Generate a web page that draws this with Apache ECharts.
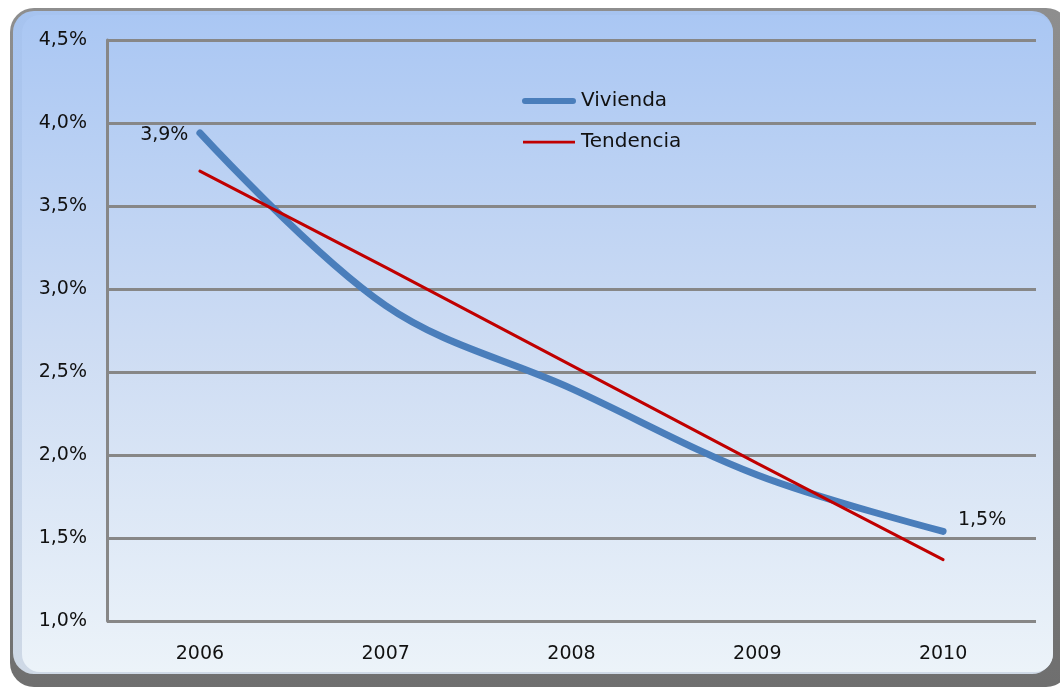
<!DOCTYPE html>
<html>
<head>
<meta charset="utf-8">
<script src="https://cdn.jsdelivr.net/npm/echarts@6/dist/echarts.min.js"></script>
<style>
html,body{margin:0;padding:0;background:#fff;}
#chart{width:1060px;height:687px;}
</style>
</head>
<body>
<div id="chart"></div>
<script>
var categories = ['2006', '2007', '2008', '2009', '2010'];
var vivienda = [3.94, 2.90, 2.40, 1.88, 1.54];
var tendencia = [3.71, 3.13, 2.54, 1.95, 1.37];
var yTicks = [1.0, 1.5, 2.0, 2.5, 3.0, 3.5, 4.0, 4.5];

function fmtPct(v, d) { return v.toFixed(d).replace('.', ',') + '%'; }

var FONT = 'DejaVu Sans';
var chart = echarts.init(document.getElementById('chart'), null, {renderer: 'canvas'});
chart.setOption({
  animation: false,
  backgroundColor: '#ffffff',
  graphic: [
    {type: 'rect', z: -10, silent: true,
     shape: {x: 10, y: 8, width: 1060, height: 679, r: 24},
     style: {fill: new echarts.graphic.LinearGradient(0, 0, 0, 1, [
       {offset: 0, color: '#8e8e8e'}, {offset: 1, color: '#6f6f6f'}])}},
    {type: 'rect', z: -9, silent: true,
     shape: {x: 13, y: 11, width: 1040, height: 663, r: 21},
     style: {fill: new echarts.graphic.LinearGradient(0, 0, 0, 1, [
       {offset: 0, color: '#a6c3ef'}, {offset: 1, color: '#cfd9e6'}])}},
    {type: 'rect', z: -8, silent: true,
     shape: {x: 22, y: 15, width: 1031, height: 657, r: 18},
     style: {fill: new echarts.graphic.LinearGradient(0, 0, 0, 1, [
       {offset: 0, color: '#aac7f3'}, {offset: 0.5, color: '#cddcf3'}, {offset: 1, color: '#ecf3f9'}])}}
  ],
  grid: {left: 107, right: 24, top: 40, bottom: 66, containLabel: false},
  legend: {
    orient: 'vertical',
    left: 517, top: 86,
    itemGap: 21,
    itemWidth: 54, itemHeight: 14,
    textStyle: {fontFamily: FONT, fontSize: 20, color: '#111'},
    data: [
      {name: 'Vivienda',
       icon: 'path://M0,0 L0.01,0 L0.01,0.01 Z M54,14 L53.99,14 L53.99,13.99 Z M3,4 L51,4 A3,3 0 0 1 51,10 L3,10 A3,3 0 0 1 3,4 Z',
       itemStyle: {color: '#4a7ebb'}},
      {name: 'Tendencia',
       icon: 'path://M0,0 L0.01,0 L0.01,0.01 Z M54,14 L53.99,14 L53.99,13.99 Z M1,5.8 L53,5.8 L53,8.4 L1,8.4 Z',
       itemStyle: {color: '#c00000'}}
    ]
  },
  xAxis: {
    type: 'category',
    data: categories,
    boundaryGap: true,
    axisLine: {show: false},
    axisTick: {show: false},
    axisLabel: {fontFamily: FONT, fontSize: 19, color: '#111', margin: 24}
  },
  yAxis: {
    type: 'value',
    min: 1.0, max: 4.5, interval: 0.5,
    axisLine: {show: true, lineStyle: {color: '#878787', width: 3}},
    axisTick: {show: false},
    splitLine: {lineStyle: {color: '#878787', width: 3}},
    axisLabel: {fontFamily: FONT, fontSize: 19, color: '#111', margin: 20,
      formatter: function (v) { return fmtPct(v, 1); }}
  },
  series: [
    {
      name: 'Vivienda', type: 'line', data: vivienda,
      smooth: 0.35, symbol: 'none',
      lineStyle: {color: '#4a7ebb', width: 7, cap: 'round'},
      itemStyle: {color: '#4a7ebb'},
      z: 3,
      label: {show: false},
      markPoint: {
        symbol: 'circle', symbolSize: 1,
        itemStyle: {color: 'rgba(0,0,0,0)'},
        label: {show: true, fontFamily: FONT, fontSize: 19, color: '#111'},
        data: [
          {coord: [0, vivienda[0]], value: vivienda[0], label: {position: 'left', offset: [-6, 2], formatter: fmtPct(3.9, 1)}},
          {coord: [4, vivienda[4]], value: vivienda[4], label: {position: 'top', offset: [39, 4], formatter: fmtPct(1.5, 1)}}
        ]
      }
    },
    {
      name: 'Tendencia', type: 'line', data: tendencia,
      smooth: false, symbol: 'none',
      lineStyle: {color: '#c00000', width: 3, cap: 'round'},
      itemStyle: {color: '#c00000'},
      z: 4
    }
  ]
});
</script>
</body>
</html>
